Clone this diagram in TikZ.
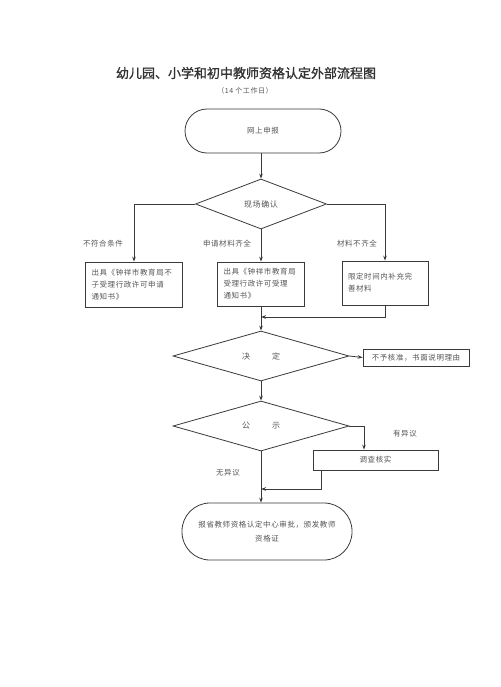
\documentclass[tikz,border=0pt]{standalone}
\usepackage{fontspec}
\setmainfont{Noto Sans CJK SC}
\newfontfamily\cjk[LetterSpace=8]{Noto Sans CJK SC}
\newfontfamily\ttlfont[FakeBold=1.2]{Noto Sans CJK SC}
\usetikzlibrary{shapes.geometric,arrows.meta}
\definecolor{linec}{HTML}{3A3A3A}
\definecolor{txt}{HTML}{555555}
\definecolor{ttl}{HTML}{333333}
\begin{document}
\begin{tikzpicture}[x=1pt,y=-1pt,
  ln/.style={draw=linec, line width=0.8pt},
  arr/.style={ln, -{Stealth[length=5pt,width=3.6pt]}},
  term/.style={draw=linec, line width=0.8pt, rectangle, text=txt, align=center, inner sep=0pt, font=\cjk\fontsize{7.5}{14}\selectfont},
  dia/.style={diamond, draw=linec, line width=0.8pt, inner sep=0pt, text=txt, font=\cjk\fontsize{8}{10}\selectfont},
  boxn/.style={rectangle, draw=linec, line width=0.8pt, text=txt, align=left, inner sep=0pt, font=\cjk\fontsize{7.5}{12}\selectfont},
  lab/.style={text=txt, inner sep=0pt, font=\cjk\fontsize{7.5}{10}\selectfont}
]
\fill[white] (0,0) rectangle (500,687);
\useasboundingbox (0,0) rectangle (500,687);

% title
\node[text=ttl, font=\ttlfont\fontsize{13}{15}\selectfont, inner sep=0pt] (title) at (246,73) {幼儿园、小学和初中教师资格认定外部流程图};
\node[text=txt, font=\cjk\fontsize{7}{9}\selectfont, inner sep=0pt] (sub) at (245,91) {（14 个工作日）};

% nodes
\node[term, rounded corners=22pt, minimum width=156pt, minimum height=44pt] (t1) at (263,131) {网上申报};
\node[dia, minimum width=131pt, minimum height=50pt] (d1) at (261,204) {现场确认};

\node[boxn, minimum width=97pt, minimum height=45pt, text width=85pt] (b1) at (134,284.5)
  {出具《钟祥市教育局不\\子受理行政许可申请\\通知书》};
\node[boxn, minimum width=87pt, minimum height=44pt, text width=75pt] (b2) at (261,284)
  {出具《钟祥市教育局\\受理行政许可受理\\通知书》};
\node[boxn, minimum width=86pt, minimum height=44pt, text width=74pt] (b3) at (385,283)
  {限定时间内补充完\\善材料};

\node[dia, minimum width=176pt, minimum height=50pt] (d2) at (261,356) {决\hspace{22pt}定};
\node[boxn, align=center, minimum width=106pt, minimum height=17pt] (n) at (416,357.5) {不予核准，书面说明理由};

\node[dia, minimum width=176pt, minimum height=50pt] (d3) at (261,426) {公\hspace{22pt}示};
\node[boxn, align=center, minimum width=125pt, minimum height=20pt] (c) at (375.5,460) {调查核实};

\node[term, rounded corners=28pt, minimum width=170pt, minimum height=57pt] (t2) at (267,531.5)
  {报省教师资格认定中心审批，颁发教师\\资格证};

% labels
\node[lab] (l1) at (103,244) {不符合条件};
\node[lab] (l2) at (227,244) {申请材料齐全};
\node[lab] (l3) at (357,244) {材料不齐全};
\node[lab] (l4) at (405,434) {有异议};
\node[lab] (l5) at (228,473) {无异议};

% helper coordinates
\coordinate (j1) at (261,317);
\coordinate (j2) at (261,489);
\path (c.north) ++(-11.5,0) coordinate (c1);
\path (c.south) ++(-54.5,0) coordinate (c2);

% connectors
\draw[arr] (t1.south -| d1.north) -- (d1.north);
\draw[arr] (d1.west) -| (b1.north);
\draw[arr] (d1.south) -- (b2.north);
\draw[arr] (d1.east) -| (b3.north);
\draw[arr] (b3.south) |- (j1);
\draw[arr] (b2.south) -- (d2.north);
\draw[arr] (d2.east) -- (n.west);
\draw[arr] (d2.south) -- (d3.north);
\draw[arr] (d3.east) -| (c1);
\draw[arr] (c2) |- (j2);
\draw[arr] (d3.south) -- (d3.south |- t2.north);
\end{tikzpicture}
\end{document}
